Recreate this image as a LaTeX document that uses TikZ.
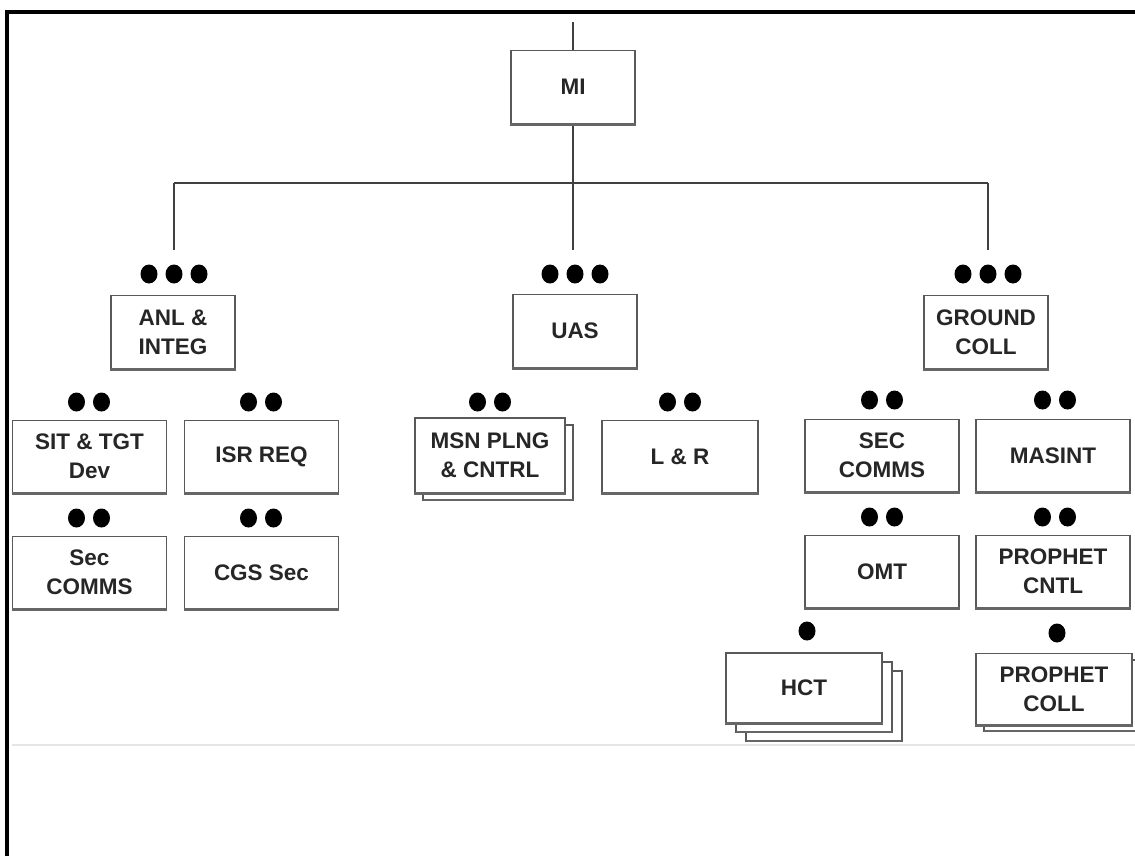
\documentclass[tikz,border=0pt]{standalone}
\usepackage{fontspec}
\setmainfont{Liberation Sans}
\usetikzlibrary{shapes.geometric}
\begin{document}
\begin{tikzpicture}[x=0.02cm,y=-0.02cm,
  box/.style={draw=black!65, line width=0.9pt, fill=white, rectangle, inner sep=0pt, align=center,
    font=\fontsize{12.8}{16.5}\selectfont\bfseries, text=black!85},
  tb/.style={box, minimum width=2.48cm, minimum height=1.46cm},
  sb/.style={box, minimum width=3.08cm, minimum height=1.44cm},
  shadowbox/.style={draw=black!65, line width=0.9pt, fill=white},
  dot/.style={ellipse, fill=black, inner sep=0pt, minimum width=0.34cm, minimum height=0.38cm},
  conn/.style={draw=black!75, line width=0.9pt},
  base/.style={draw=black!60, line width=1.5pt}
]
\useasboundingbox (0,0) rectangle (1135,856);
\fill[white] (0,0) rectangle (1135,856);
% frame
\draw[line width=2.2pt] (7,856) -- (7,12) -- (1135,12);
% faint scan line
\draw[black!10, line width=1.5pt] (12,745) -- (1135,745);

% connectors
\coordinate (top) at (573,22);
\coordinate (barL) at (174,183);
\coordinate (barM) at (573,183);
\coordinate (barR) at (988,183);
\coordinate (dropL) at (174,250);
\coordinate (dropM) at (573,250);
\coordinate (dropR) at (988,250);

% top level
\node[tb] (mi) at (573,87) {MI};
\draw[conn] (top) -- (mi.north);
\draw[conn] (mi.south) -- (barM) -- (dropM);
\draw[conn] (barL) -- (barR);
\draw[conn] (barL) -- (dropL);
\draw[conn] (barR) -- (dropR);

% second level
\node[tb] (anl) at (173,332) {ANL \&\\INTEG};
\node[tb] (uas) at (575,331) {UAS};
\node[tb] (gnd) at (986,332) {GROUND\\COLL};
\foreach \n/\x in {anl/174, uas/575, gnd/988}{
  \node[dot] (\n d1) at (\x-25,274) {};
  \node[dot] (\n d2) at (\x,274) {};
  \node[dot] (\n d3) at (\x+25,274) {};
}

% third level
\node[sb] (sit) at (89.5,456.5) {SIT \& TGT\\Dev};
\node[sb] (isr) at (261.5,456.5) {ISR REQ};
\node[sb] (seca) at (89.5,572.5) {Sec\\COMMS};
\node[sb] (cgs) at (261.5,572.5) {CGS Sec};

\draw[shadowbox] (423,425) rectangle (573,500);
\draw[base] (423,500) -- (573,500);
\node[box, minimum width=3.0cm, minimum height=1.5cm] (msn) at (490,455.5) {MSN PLNG\\\& CNTRL};
\node[sb, minimum width=3.12cm] (lr) at (680,456.5) {L \& R};

\node[sb] (secc) at (882,455.5) {SEC\\COMMS};
\node[sb] (mas) at (1053,455.5) {MASINT};
\node[sb] (omt) at (882,571.5) {OMT};
\node[sb] (pcn) at (1053,571.5) {PROPHET\\CNTL};

% stacked HCT
\draw[shadowbox] (746,671) rectangle (902,741);
\draw[base] (746,741) -- (902,741);
\draw[shadowbox] (736,662) rectangle (892,732);
\draw[base] (736,732) -- (892,732);
\node[sb, minimum width=3.12cm, minimum height=1.4cm] (hct) at (804,688) {HCT};

% PROPHET COLL
\draw[shadowbox] (984,660) rectangle (1140,731);
\draw[base] (984,731) -- (1140,731);
\node[sb, minimum width=3.12cm, minimum height=1.42cm] (pco) at (1054,689) {PROPHET\\COLL};

% bottom edges
\foreach \n in {mi,anl,uas,gnd,sit,isr,seca,cgs,msn,lr,secc,mas,omt,pcn,hct,pco}{
  \draw[base] (\n.south west) -- (\n.south east);
}

% double dots
\foreach \n/\x/\y in {sit/89/402, isr/261/402, seca/89/518, cgs/261/518,
                      msn/490/402, lr/680/402, secc/882/400, mas/1055/400,
                      omt/882/517, pcn/1055/517}{
  \node[dot] (\n d1) at (\x-12.5,\y) {};
  \node[dot] (\n d2) at (\x+12.5,\y) {};
}
% single dots
\node[dot] (hct d1) at (807,631) {};
\node[dot] (pco d1) at (1057,633) {};
\end{tikzpicture}
\end{document}
